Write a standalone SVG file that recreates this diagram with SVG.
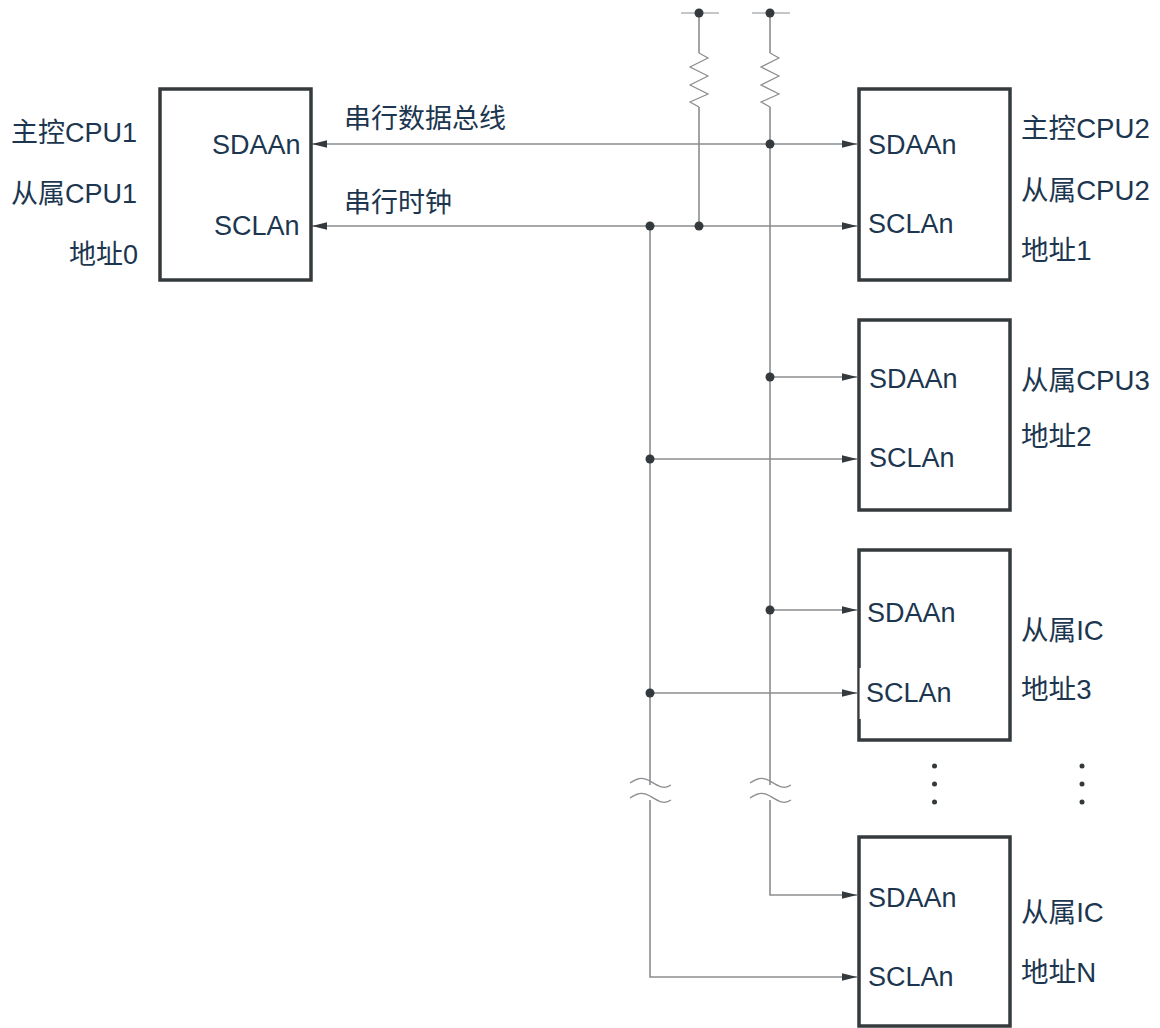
<svg xmlns="http://www.w3.org/2000/svg" width="1160" height="1028" viewBox="0 0 1160 1028">
<style>
.box{fill:#fff;stroke:#353a3d;stroke-width:3.5}
.w{fill:none;stroke:#8a8d8f;stroke-width:1.6}
.t{fill:none;stroke:#8a8d8f;stroke-width:1.2}
.d{fill:#33393c}
text{font-family:"Liberation Sans","Noto Sans CJK SC",sans-serif;font-size:27px;fill:#1c3650}
text.r{font-size:27.6px}
</style>
<defs>
<marker id="a" markerUnits="userSpaceOnUse" markerWidth="16" markerHeight="10" refX="15" refY="5" orient="auto-start-reverse"><path d="M0 1.2 L15 5 L0 8.8 Z" fill="#33393c"/></marker>
</defs>
<rect width="1160" height="1028" fill="#fff"/>
<g id="connectors">
<path class="w" d="M699 13V53M699 107V226"/>
<path class="w" d="M770 13V53M770 107V785M770 800V895H857" marker-end="url(#a)"/>
<path class="t" d="M681 13H719M752 13H790"/>
<path class="t" d="M699 53L708 58L690 67L708 76L690 85L708 94L690 102L699 107M770 53L779 58L761 67L779 76L761 85L779 94L761 102L770 107"/>
<path class="w" marker-start="url(#a)" marker-end="url(#a)" d="M312 144H857"/>
<path class="w" marker-start="url(#a)" marker-end="url(#a)" d="M312 226H857"/>
<path class="w" marker-end="url(#a)" d="M770 377H857"/>
<path class="w" marker-end="url(#a)" d="M650 459H857"/>
<path class="w" marker-end="url(#a)" d="M770 610H857"/>
<path class="w" marker-end="url(#a)" d="M650 693H857"/>
<path class="w" d="M650 226V785M650 800V977H857" marker-end="url(#a)"/>
<path class="t" d="M630 783C636 779 642 776 650 781S664 790 671 785M630 798C636 794 642 791 650 796S664 805 671 800M750 783C756 779 762 776 770 781S784 790 791 785M750 798C756 794 762 791 770 796S784 805 791 800"/>
<g class="d">
<circle cx="699" cy="13" r="4.5"/><circle cx="770" cy="13" r="4.5"/>
<circle cx="770" cy="144" r="4.5"/><circle cx="650" cy="226" r="4.5"/><circle cx="699" cy="226" r="4.5"/>
<circle cx="770" cy="377" r="4.5"/><circle cx="650" cy="459" r="4.5"/><circle cx="770" cy="610" r="4.5"/><circle cx="650" cy="693" r="4.5"/>
</g>
</g>
<g id="cpu1"><rect class="box" x="160" y="89" width="151" height="191"/>
<text x="212" y="154">SDAAn</text><text x="214" y="235">SCLAn</text>
<text x="11" y="142">主控CPU1</text><text x="11" y="203">从属CPU1</text><text x="69" y="264">地址0</text></g>
<g id="cpu2"><rect class="box" x="859" y="89" width="151" height="191"/>
<text x="868" y="154">SDAAn</text><text x="868" y="233">SCLAn</text>
<text class="r" x="1021" y="138">主控CPU2</text><text class="r" x="1021" y="200">从属CPU2</text><text class="r" x="1021" y="260">地址1</text></g>
<g id="cpu3"><rect class="box" x="859" y="320" width="151" height="190"/>
<text x="869" y="388">SDAAn</text><text x="869" y="467">SCLAn</text>
<text class="r" x="1021" y="390">从属CPU3</text><text class="r" x="1021" y="446">地址2</text></g>
<g id="ic3"><rect class="box" x="859" y="550" width="151" height="190"/>
<rect x="859.6" y="668" width="1.8" height="51" fill="#fff"/>
<text x="867" y="622">SDAAn</text><text x="866" y="702">SCLAn</text>
<text class="r" x="1021" y="640">从属IC</text><text class="r" x="1021" y="699">地址3</text></g>
<g id="icn"><rect class="box" x="859" y="837" width="151" height="189"/>
<text x="868" y="907">SDAAn</text><text x="868" y="986">SCLAn</text>
<text class="r" x="1021" y="922">从属IC</text><text class="r" x="1021" y="982">地址N</text></g>
<g id="labels"><text x="344" y="128">串行数据总线</text><text x="344" y="212">串行时钟</text></g>
<g id="ellipsis" class="d">
<circle cx="934.5" cy="766" r="2.5"/><circle cx="934.5" cy="784" r="2.5"/><circle cx="934.5" cy="802" r="2.5"/>
<circle cx="1082" cy="766" r="2.5"/><circle cx="1082" cy="784" r="2.5"/><circle cx="1082" cy="802" r="2.5"/>
</g>
</svg>
